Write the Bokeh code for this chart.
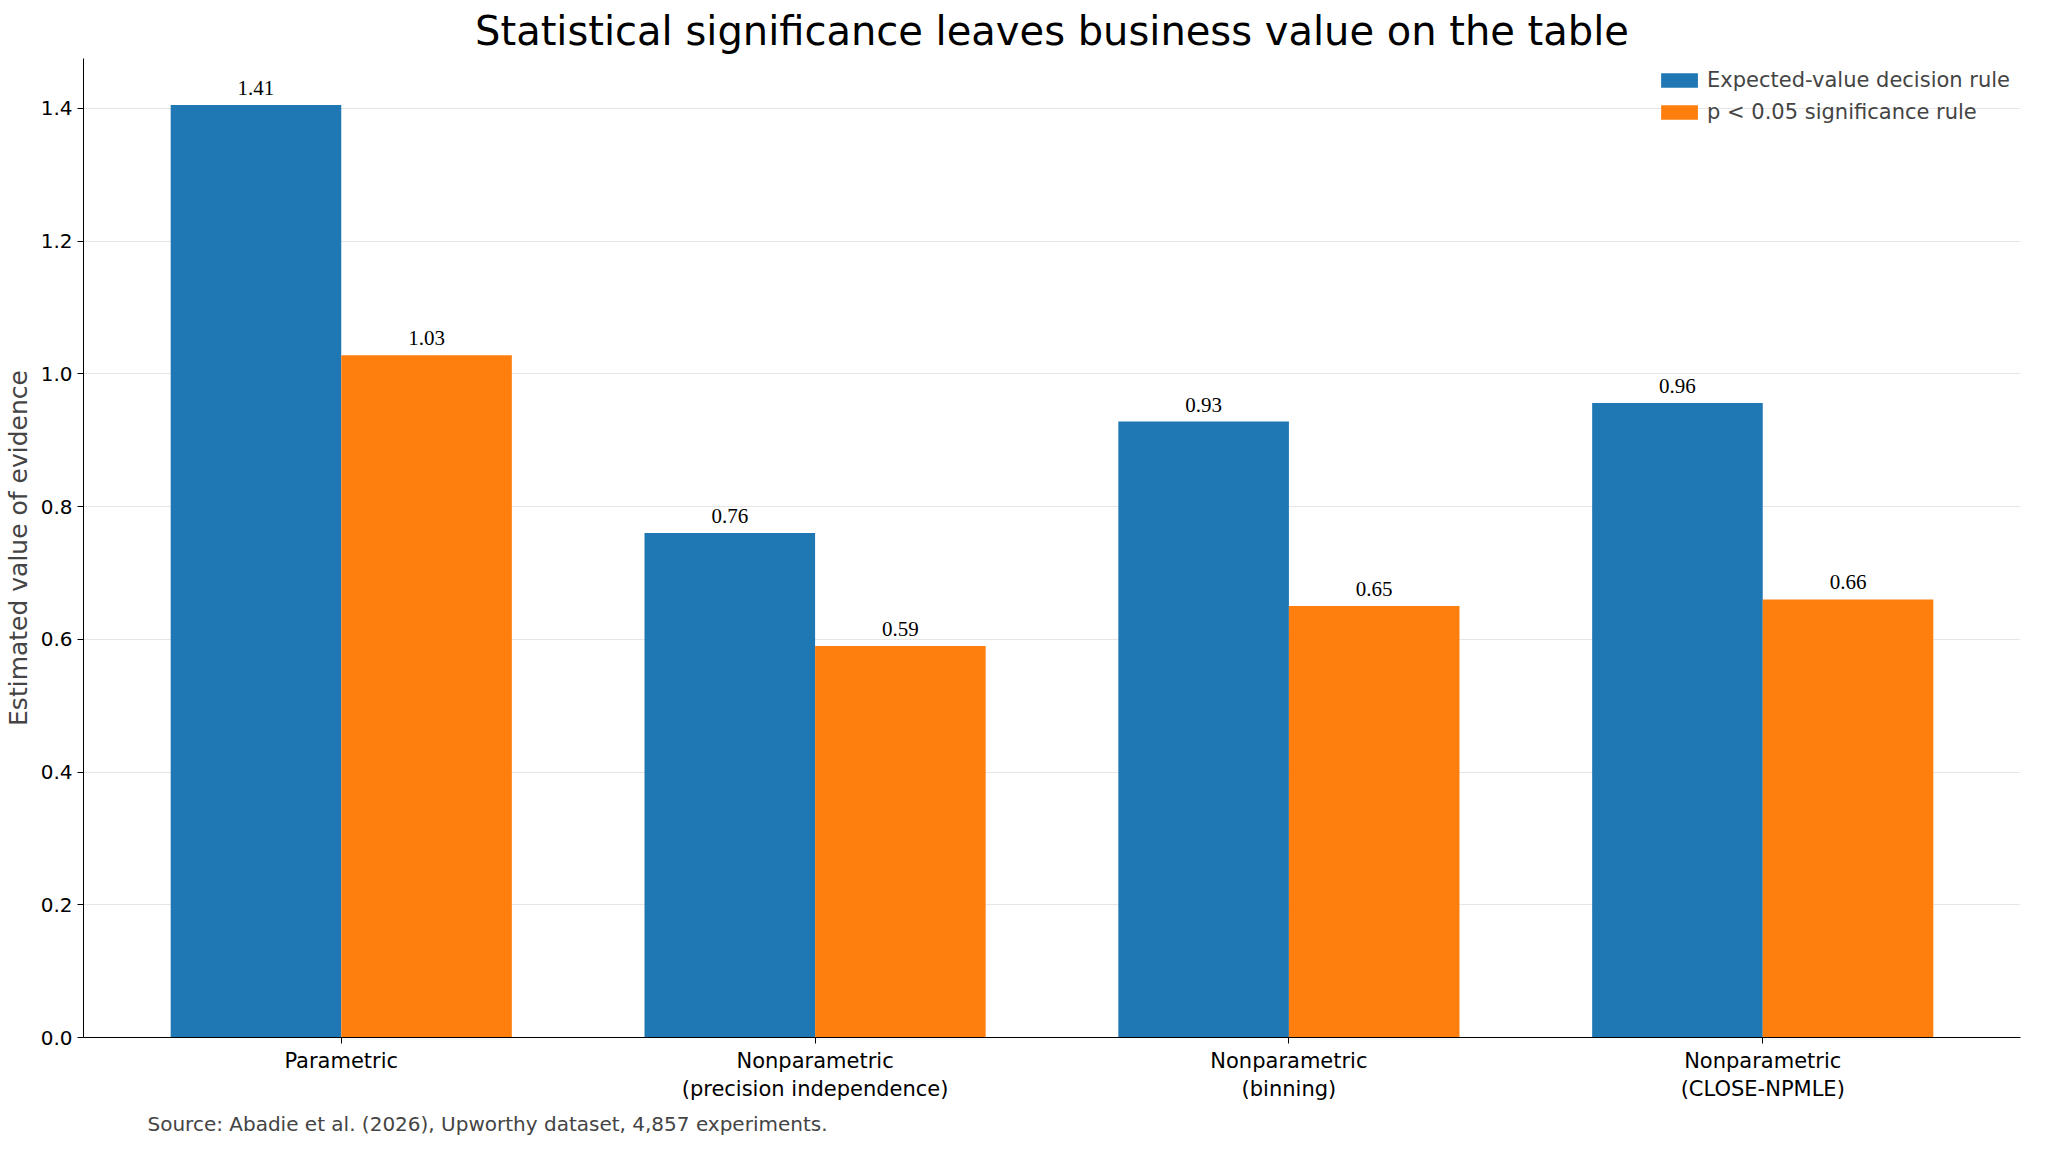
from bokeh.plotting import figure
from bokeh.models import ColumnDataSource, Range1d, Title, LabelSet, Legend, LegendItem, FixedTicker
from bokeh.embed import file_html
from bokeh.resources import INLINE

categories = ["Parametric", "Nonparametric\n(precision independence)", "Nonparametric\n(binning)", "Nonparametric\n(CLOSE-NPMLE)"]
ev_values = [1.405, 0.76, 0.928, 0.956]
p05_values = [1.028, 0.59, 0.65, 0.66]
ev_labels = ["1.41", "0.76", "0.93", "0.96"]
p05_labels = ["1.03", "0.59", "0.65", "0.66"]
series_names = ["Expected-value decision rule", "p < 0.05 significance rule"]

FONT = "DejaVu Sans"
BLUE, ORANGE = "#1f77b4", "#ff7f0e"
idx = list(range(len(categories)))
w = 0.36

p = figure(width=2030, height=1140, output_backend="svg", toolbar_location=None,
           x_range=Range1d(-0.544, len(categories) - 1 + 0.544), y_range=Range1d(0, 1.475),
           min_border_left=30, min_border_right=10, min_border_top=10, min_border_bottom=20)
p.title.text = "Statistical significance leaves business value on the table"
p.title.align = "center"
p.title.text_font = FONT
p.title.text_font_size = "40px"
p.title.text_font_style = "normal"
p.title.text_color = "black"

s1 = ColumnDataSource(dict(x=[i - w / 2 for i in idx], y=ev_values, t=ev_labels))
s2 = ColumnDataSource(dict(x=[i + w / 2 for i in idx], y=p05_values, t=p05_labels))
r1 = p.vbar(x="x", top="y", width=w, source=s1, fill_color=BLUE, line_color=None)
r2 = p.vbar(x="x", top="y", width=w, source=s2, fill_color=ORANGE, line_color=None)
for s in (s1, s2):
    p.add_layout(LabelSet(x="x", y="y", text="t", source=s, text_align="center", y_offset=10,
                          text_font=FONT, text_font_size="21px", text_color="black"))

p.xaxis.ticker = FixedTicker(ticks=idx)
p.xaxis.major_label_overrides = {i: c for i, c in zip(idx, categories)}
p.yaxis.ticker = FixedTicker(ticks=[0, 0.2, 0.4, 0.6, 0.8, 1.0, 1.2, 1.4])
p.yaxis.formatter.__init__()
from bokeh.models import CustomJSTickFormatter
p.yaxis.formatter = CustomJSTickFormatter(code="return tick.toFixed(1);")
p.yaxis.axis_label = "Estimated value of evidence"
p.yaxis.axis_label_text_font = FONT
p.yaxis.axis_label_text_font_size = "25px"
p.yaxis.axis_label_text_font_style = "normal"
for ax in (p.xaxis, p.yaxis):
    ax.major_label_text_font = FONT
    ax.major_label_text_font_size = "20px"
    ax.major_label_text_color = "black"
    ax.axis_line_color = "black"
    ax.major_tick_line_color = "black"
    ax.minor_tick_line_color = None
    ax.major_tick_out = 6
    ax.major_tick_in = 0
p.xaxis.major_label_text_font_size = "21px"
p.xgrid.grid_line_color = None
p.ygrid.grid_line_color = "#e6e6e6"
p.outline_line_color = None

legend = Legend(items=[LegendItem(label=series_names[0], renderers=[r1]),
                       LegendItem(label=series_names[1], renderers=[r2])],
                location="top_right", border_line_color=None, background_fill_alpha=0,
                label_text_font=FONT, label_text_font_size="21px",
                glyph_width=46, glyph_height=18, spacing=8)
p.add_layout(legend)

src = Title(text="Source: Abadie et al. (2026), Upworthy dataset, 4,857 experiments.", align="left",
            text_font=FONT, text_font_size="20px", text_font_style="normal", offset=64)
p.add_layout(src, "below")

open("out.html", "w").write(file_html(p, INLINE))
